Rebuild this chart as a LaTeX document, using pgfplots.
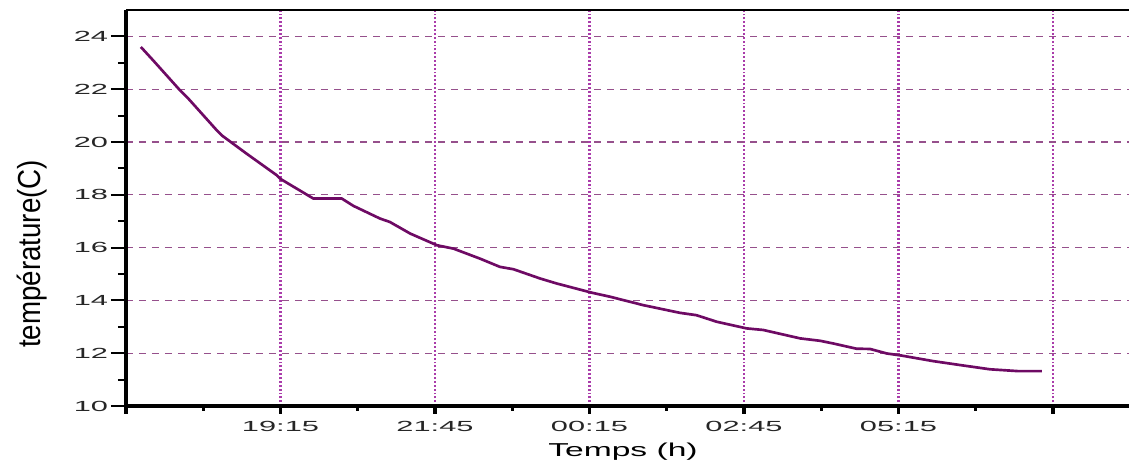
\documentclass[border=0pt]{standalone}
\usepackage{fontspec}
\setmainfont{Liberation Sans}
\usepackage{graphicx}
\usepackage{pgfplots}
\pgfplotsset{compat=1.18}
\definecolor{curve}{RGB}{110,10,100}
\definecolor{hgrid}{RGB}{150,80,140}
\definecolor{vgrid}{RGB}{170,60,170}
\newcommand{\hs}[1]{\scalebox{2.1}[1]{#1}}
\pgfplotstableread{
h T
16.99 23.60
17.19 23.09
17.60 22.02
17.76 21.64
18.22 20.44
18.30 20.25
18.70 19.56
19.19 18.74
19.25 18.60
19.78 17.86
20.24 17.86
20.43 17.58
20.86 17.10
21.02 16.97
21.35 16.53
21.78 16.09
22.05 15.96
22.48 15.58
22.80 15.27
23.02 15.18
23.45 14.83
23.72 14.64
24.29 14.29
24.58 14.14
24.85 13.98
25.12 13.82
25.71 13.53
25.98 13.44
26.31 13.19
26.79 12.94
27.06 12.88
27.66 12.56
27.98 12.47
28.19 12.37
28.57 12.17
28.79 12.16
29.06 11.99
29.30 11.91
29.81 11.70
30.25 11.55
30.73 11.39
31.19 11.32
31.57 11.32
}\datatable
\begin{document}
\begin{tikzpicture}
\begin{axis}[
  scale only axis, width=752.25pt, height=297pt,
  xmin=16.75, xmax=32.98, ymin=10, ymax=25,
  axis lines*=left,
  axis line style={line width=2.5pt, black},
  /pgf/number format/assume math mode=true,
  tick label style={font=\fontsize{11pt}{13pt}\selectfont, text=black!85},
  xtick={16.75,19.25,21.75,24.25,26.75,29.25,31.75},
  xticklabels={,\hs{19:15},\hs{21:45},\hs{00:15},\hs{02:45},\hs{05:15},},
  ytick={10,12,...,24},
  yticklabel={\hs{\pgfmathprintnumber{\tick}}},
  minor x tick num=1, minor y tick num=1,
  tick align=outside,
  major tick length=11.25pt, minor tick length=6pt,
  xtick style={/pgfplots/major tick length=6pt, /pgfplots/minor tick length=3.75pt, line width=2.5pt, black},
  ytick style={line width=1.5pt, black},
  xticklabel style={anchor=base, inner sep=0pt, yshift=-8.25pt},
  yticklabel style={anchor=east, inner sep=0pt, xshift=-2pt},
  xmajorgrids, ymajorgrids,
  x grid style={vgrid, line width=1.6pt, dash pattern=on 1.4pt off 1.5pt},
  y grid style={hgrid, line width=0.8pt, dash pattern=on 5.25pt off 4.5pt},
  xlabel={\scalebox{1.8}[1]{\fontsize{14pt}{16pt}\selectfont Temps (h)}},
  xlabel style={at={(axis description cs:0.4955,-0.1288)}, anchor=base, inner sep=0pt},
  ylabel={\scalebox{0.87}[1]{\fontsize{23.9pt}{26pt}\selectfont température(C)}},
  ylabel style={at={(axis description cs:-0.0937,0.384)}, anchor=center, inner sep=0pt},
]
\addplot[curve, line width=2pt] table[x=h, y=T] {\datatable};
\end{axis}
\draw[line width=1.5pt] (current axis.north west) -- (current axis.north east);
\pgfresetboundingbox
\path[use as bounding box] ([shift={(-94.5pt,-45pt)}]current axis.south west) rectangle ([shift={(0pt,7.5pt)}]current axis.north east);
\end{tikzpicture}
\end{document}
